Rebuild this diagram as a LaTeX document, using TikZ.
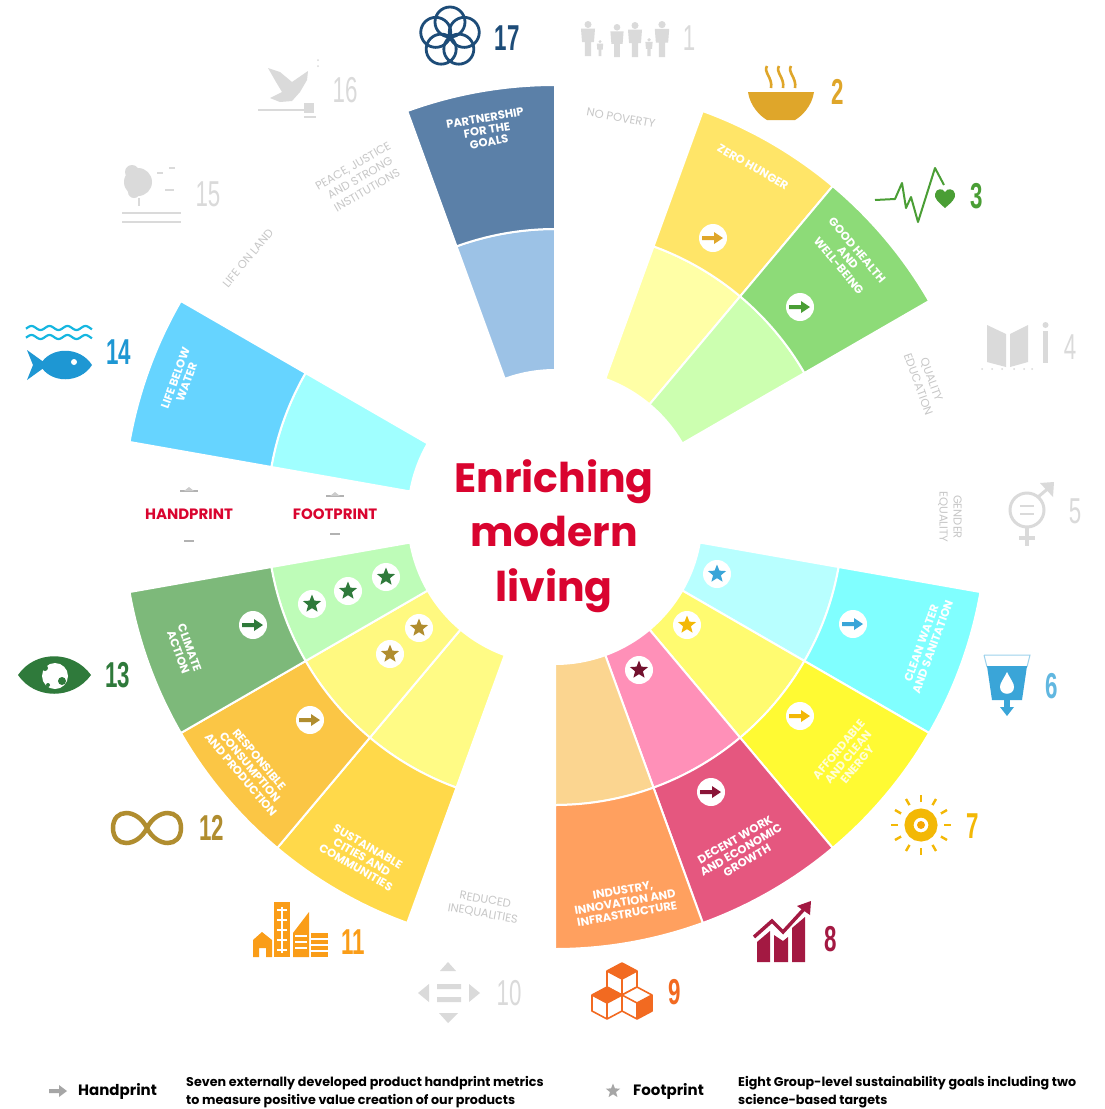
\documentclass[tikz,border=0pt]{standalone}
\usepackage{fontspec}
\setmainfont{Poppins}
\newfontfamily\numfont{Liberation Sans}
\usetikzlibrary{shapes.geometric}
\definecolor{enrich}{HTML}{D9042F}
\definecolor{grayicon}{HTML}{DADADA}
\definecolor{c17}{HTML}{5B80A8}\definecolor{d17}{HTML}{9CC2E6}
\definecolor{c2}{HTML}{FFE568}\definecolor{d2}{HTML}{FFFFA6}
\definecolor{c3}{HTML}{8DDB78}\definecolor{d3}{HTML}{CCFFB0}
\definecolor{c6}{HTML}{80FFFF}\definecolor{d6}{HTML}{B8FFFF}
\definecolor{c7}{HTML}{FFFA33}\definecolor{d7}{HTML}{FFFB70}
\definecolor{c8}{HTML}{E5577F}\definecolor{d8}{HTML}{FF90B8}
\definecolor{c9}{HTML}{FFA05F}\definecolor{d9}{HTML}{FBD590}
\definecolor{c11}{HTML}{FFD94A}\definecolor{d11}{HTML}{FFFB85}
\definecolor{c12}{HTML}{FBC645}\definecolor{d12}{HTML}{FFF980}
\definecolor{c13}{HTML}{7DB97A}\definecolor{d13}{HTML}{BEFCB8}
\definecolor{c14}{HTML}{66D4FF}\definecolor{d14}{HTML}{A0FFFF}
\definecolor{i2}{HTML}{DFA62A}\definecolor{i3}{HTML}{4A9E35}
\definecolor{i6}{HTML}{3AA5D8}\definecolor{i7}{HTML}{F3B806}
\definecolor{i8}{HTML}{A31942}\definecolor{i9}{HTML}{F26A21}
\definecolor{i11}{HTML}{FA9D18}\definecolor{i12}{HTML}{B08D2F}
\definecolor{i13}{HTML}{2F7A3B}\definecolor{i14}{HTML}{1E97D3}
\definecolor{i17}{HTML}{1D4C78}
\tikzset{
  x=1pt,y=-1pt,
  seclabel/.style={text=white,font=\fontsize{11.5}{12}\selectfont\bfseries,align=center,inner sep=0pt},
  graylabel/.style={text=black!22,font=\fontsize{11.5}{14}\selectfont,align=center,inner sep=0pt},
  numb/.style={font=\numfont\fontsize{36}{36}\selectfont\bfseries,xscale=.62,inner sep=0pt},
  gnumb/.style={font=\numfont\fontsize{36}{36}\selectfont,xscale=.62,inner sep=0pt,text=grayicon},
  badge/.style={circle,fill=white,minimum size=28pt,inner sep=0pt},
  starmark/.style={star,star points=5,star point ratio=2.3,minimum size=19pt,inner sep=0pt,fill=#1},
  legend/.style={font=\fontsize{12.7}{18}\selectfont\bfseries,align=left,inner sep=0pt,anchor=west,text=black},
  heading/.style={text=enrich,font=\fontsize{15}{15}\selectfont\bfseries,inner sep=0pt},
}
\newcommand\wedgeseg[5]{%
  \fill[#5,draw=white,line width=2pt] (#1:#3) arc[start angle=#1,end angle=#2,radius=#3 pt]
    -- (#2:#4) arc[start angle=#2,end angle=#1,radius=#4 pt] -- cycle;}
\newcommand\goal[3]{% from, inner colour, outer colour
  \pgfmathsetmacro\tb{#1+20}%
  \wedgeseg{#1}{\tb}{147}{288}{#2}%
  \wedgeseg{#1}{\tb}{288}{432}{#3}}
\newcommand\arrowmark[3]{%
  \node[badge] (a#1) at (#2) {};
  \fill[#3] ([shift={(-11,-2)}]a#1.center) -- ++(12,0) -- ++(0,-4) -- ++(9,6) -- ++(-9,6) -- ++(0,-4) -- ++(-12,0) -- cycle;}
\newcommand\starbadge[3]{%
  \node[badge] (s#1) at (#2) {};
  \node[starmark=#3] (st#1) at (s#1.center) {};}
\newcommand\psn[3]{% x, top y, height
  \fill[grayicon] (#1,#2+.1*#3) circle[radius=.1*#3 pt];
  \fill[grayicon] (#1-.2*#3,#2+.22*#3) -- (#1+.2*#3,#2+.22*#3) -- (#1+.17*#3,#2+.6*#3) -- (#1+.09*#3,#2+.6*#3)
     -- (#1+.09*#3,#2+#3) -- (#1-.09*#3,#2+#3) -- (#1-.09*#3,#2+.6*#3) -- (#1-.17*#3,#2+.6*#3) -- cycle;}
\newcommand\cubeicon[4]{% x,y top centre, top fill, left fill
  \fill[#3] (#1,#2-8) -- (#1+15,#2) -- (#1,#2+8) -- (#1-15,#2) -- cycle;
  \fill[#4] (#1,#2+8) -- (#1+15,#2) -- (#1+15,#2+16) -- (#1,#2+24) -- cycle;
  \draw[i9,line width=1.6pt,line join=round] (#1,#2-8) -- (#1+15,#2) -- (#1,#2+8) -- (#1-15,#2) -- cycle
     (#1-15,#2) -- (#1-15,#2+16) -- (#1,#2+24) -- (#1+15,#2+16) -- (#1+15,#2) (#1,#2+8) -- (#1,#2+24);}
\begin{document}
\begin{tikzpicture}
\useasboundingbox (0,0) rectangle (1104,1109);
\fill[white] (0,0) rectangle (1104,1109);
% ---------- wheel
\begin{scope}[shift={(555,517)},x=1pt,y=1pt]
\goal{90}{d17}{c17}
\goal{50}{d2}{c2}
\goal{30}{d3}{c3}
\goal{-30}{d6}{c6}
\goal{-50}{d7}{c7}
\goal{-70}{d8}{c8}
\goal{-90}{d9}{c9}
\goal{-130}{d11}{c11}
\goal{-150}{d12}{c12}
\goal{-170}{d13}{c13}
\goal{150}{d14}{c14}
\end{scope}
% ---------- sector labels
\node[seclabel,rotate=10] (l17) at (487,130) {PARTNERSHIP\\FOR THE\\GOALS};
\node[seclabel,rotate=-30] (l2) at (753,167) {ZERO HUNGER};
\node[seclabel,rotate=-50] (l3) at (848,258) {GOOD HEALTH\\AND\\WELL-BEING};
\node[seclabel,rotate=70] (l6) at (927,645) {CLEAN WATER\\AND SANITATION};
\node[seclabel,rotate=50,text=white!80!c7] (l7) at (848,757) {AFFORDABLE\\AND CLEAN\\ENERGY};
\node[seclabel,rotate=30] (l8) at (741,850) {DECENT WORK\\AND ECONOMIC\\GROWTH};
\node[seclabel,rotate=10] (l9) at (625,902) {INDUSTRY,\\INNOVATION AND\\INFRASTRUCTURE};
\node[seclabel,rotate=-30] (l11) at (362,857) {SUSTAINABLE\\CITIES AND\\COMMUNITIES};
\node[seclabel,rotate=-50] (l12) at (250,767) {RESPONSIBLE\\CONSUMPTION\\AND PRODUCTION};
\node[seclabel,rotate=-70] (l13) at (184,650) {CLIMATE\\ACTION};
\node[seclabel,rotate=70] (l14) at (181,380) {LIFE BELOW\\WATER};
% ---------- grey labels
\node[graylabel,rotate=-10] (l1) at (621,118) {NO POVERTY};
\node[graylabel,rotate=-70] (l4) at (925,382) {QUALITY\\EDUCATION};
\node[graylabel,rotate=-90] (l5) at (950,517) {GENDER\\EQUALITY};
\node[graylabel,rotate=-10] (l10) at (484,907) {REDUCED\\INEQUALITIES};
\node[graylabel,rotate=50] (l15) at (248,258) {LIFE ON LAND};
\node[graylabel,rotate=30] (l16) at (360,178) {PEACE, JUSTICE\\AND STRONG\\INSTITUTIONS};
% ---------- badges
\arrowmark{2}{713,238}{i2}
\arrowmark{3}{800,307}{i3}
\arrowmark{6}{853,624}{i6}
\arrowmark{7}{800,716}{i7}
\arrowmark{8}{711,792}{i8!85!black}
\arrowmark{12}{310,720}{i12}
\arrowmark{13}{253,625}{i13}
\starbadge{6}{717,574}{i6}
\starbadge{7}{687,625}{i7}
\starbadge{8}{639,670}{i8!70!black}
\starbadge{12a}{419,628}{i12}
\starbadge{12b}{390,654}{i12}
\starbadge{13a}{386,577}{i13}
\starbadge{13b}{348,591}{i13}
\starbadge{13c}{312,604}{i13}
% ---------- centre
\node[text=enrich,font=\fontsize{41}{54.5}\selectfont\bfseries,align=center,inner sep=0pt] (title) at (554,536) {Enriching\\modern\\living};
\node[heading] (hand) at (189,514) {HANDPRINT};
\node[heading] (foot) at (335,514) {FOOTPRINT};
\foreach \xx/\ya/\yb in {189/491/541,335/496/534}{
  \draw[black!30,line width=1.5pt] (\xx-9,\ya) -- (\xx+9,\ya) (\xx-5,\yb) -- (\xx+5,\yb);
  \fill[black!20] (\xx-5,\ya) -- (\xx,\ya-4) -- (\xx+5,\ya) -- cycle;
}
% ---------- numbers
\node[numb,text=i17] (n17) at (507,38) {17};
\node[gnumb] (n1) at (689,38) {1};
\node[numb,text=i2] (n2) at (838,92) {2};
\node[numb,text=i3] (n3) at (977,196) {3};
\node[gnumb] (n4) at (1070,347) {4};
\node[gnumb] (n5) at (1075,511) {5};
\node[numb,text=i6!80!white] (n6) at (1052,686) {6};
\node[numb,text=i7] (n7) at (973,826) {7};
\node[numb,text=i8] (n8) at (831,939) {8};
\node[numb,text=i9] (n9) at (675,992) {9};
\node[gnumb] (n10) at (509,993) {10};
\node[numb,text=i11] (n11) at (353,942) {11};
\node[numb,text=i12] (n12) at (212,828) {12};
\node[numb,text=i13] (n13) at (118,675) {13};
\node[numb,text=i14] (n14) at (119,352) {14};
\node[gnumb] (n15) at (208,194) {15};
\node[gnumb] (n16) at (345,90) {16};
% icon 17
\foreach \a in {90,162,234,306,18}
  \draw[i17,line width=2.8pt] ({450+15*cos(\a)},{37-15*sin(\a)}) circle[radius=15pt];
% icon 1
\psn{588}{21}{35}\psn{600}{40}{16}\psn{617}{24}{33}\psn{635}{22}{35}\psn{649}{38}{18}\psn{662}{21}{36}
% icon 2
\fill[i2] (748,92) -- (814,92) .. controls (812,106) and (802,116) .. (795,120) -- (767,120) .. controls (760,116) and (750,106) .. (748,92) -- cycle;
\foreach \xx in {768,780,792}
  \draw[i2,line width=2.6pt] (\xx-1,66) .. controls (\xx-5,72) and (\xx+5,78) .. (\xx+3,88);
% icon 3
\draw[i3,line width=2pt,line join=round] (875,200) -- (895,199) -- (902,183) -- (906,208) -- (911,197) -- (918,222) -- (935,168) -- (944,185);
\fill[i3] (945,208) .. controls (938,202) and (934,198) .. (935,194) .. controls (936,188) and (943,188) .. (945,192) .. controls (947,188) and (954,188) .. (955,194) .. controls (956,198) and (952,202) .. (945,208) -- cycle;
% icon 4
\fill[grayicon] (987,325) -- (1006,334) -- (1006,367) -- (987,362) -- cycle;
\fill[grayicon] (1028,325) -- (1010,334) -- (1010,367) -- (1028,362) -- cycle;
\fill[grayicon] (1043,331) rectangle (1048,363);
\fill[grayicon] (1045.5,325) circle[radius=3pt];
\foreach \xx in {982,992,1002,1014,1024,1032} \fill[grayicon] (\xx,369) circle[radius=1pt];
% icon 5
\draw[grayicon,line width=3pt] (1027,510) circle[radius=17pt];
\draw[grayicon,line width=2.5pt] (1020,506) -- (1034,506) (1020,514) -- (1034,514);
\draw[grayicon,line width=3pt] (1038,497) -- (1051,486);
\fill[grayicon] (1040,483) -- (1054,482) -- (1053,497) -- cycle;
\draw[grayicon,line width=4pt] (1027,527) -- (1027,546) (1019,538) -- (1035,538);
% icon 6
\draw[i6!50!white,line width=1pt] (984,655) -- (1030,655) -- (1027,667) (984,655) -- (987,667);
\fill[i6] (987,666) -- (1027,666) -- (1022,700) -- (992,700) -- cycle;
\fill[white] (1007,672) .. controls (1011,680) and (1014,683) .. (1014,687) .. controls (1014,696) and (1000,696) .. (1000,687) .. controls (1000,683) and (1003,680) .. (1007,672) -- cycle;
\fill[i6] (1004,699) rectangle (1010,709);
\fill[i6] (1000,707) -- (1014,707) -- (1007,716) -- cycle;
% icon 7
\draw[i7,line width=9pt] (921,825) circle[radius=12pt];
\fill[i7!70!orange] (921,825) circle[radius=4pt];
\foreach \a in {0,30,...,330}
  \draw[i7,line width=2.4pt] ({921+23*cos(\a)},{825-23*sin(\a)}) -- ({921+30*cos(\a)},{825-30*sin(\a)});
% icon 8
\fill[i8] (757,942) -- (770,931) -- (770,962) -- (757,962) -- cycle;
\fill[i8] (774,935) -- (783,941) -- (788,937) -- (788,962) -- (774,962) -- cycle;
\fill[i8] (792,928) -- (805,917) -- (805,962) -- (792,962) -- cycle;
\draw[i8,line width=3.5pt] (754,937) -- (772,921) -- (783,932) -- (805,908);
\fill[i8] (797,906) -- (811,901) -- (810,915) -- cycle;
% icon 9
\cubeicon{622}{971}{i9}{white}
\cubeicon{637}{995}{white}{i9}
\cubeicon{607}{995}{i9}{white}
% icon 10
\fill[grayicon] (448,962) -- (456,971) -- (440,971) -- cycle;
\fill[grayicon] (439,1013) -- (458,1013) -- (448,1023) -- cycle;
\fill[grayicon] (418,993) -- (429,984) -- (429,1002) -- cycle;
\fill[grayicon] (480,993) -- (469,984) -- (469,1002) -- cycle;
\fill[grayicon] (437,984) rectangle (461,989) (437,997) rectangle (461,1002);
% icon 11
\fill[i11] (253,957) -- (253,940) -- (262,932) -- (272,940) -- (272,957) -- (266,957) -- (266,948) -- (259,948) -- (259,957) -- cycle;
\fill[i11] (274,902) rectangle (290,957);
\foreach \yy in {910,920,930,940,950} \draw[white,line width=1.2pt] (277,\yy) -- (287,\yy);
\draw[white,line width=1.2pt] (282,907) -- (282,953);
\fill[i11] (293,933) -- (309,912) -- (309,957) -- (293,957) -- cycle;
\foreach \yy in {936,942,948} \draw[white,line width=1.2pt] (295,\yy) -- (307,\yy);
\fill[i11] (311,933) rectangle (328,957);
\foreach \yy in {939,945,951} \draw[white,line width=1.2pt] (311,\yy) -- (328,\yy);
% icon 12
\draw[i12,line width=4.5pt] (147,828) .. controls (157,808) and (181,808) .. (181,828) .. controls (181,848) and (157,848) .. (147,828) .. controls (137,808) and (113,808) .. (113,828) .. controls (113,848) and (137,848) .. (147,828) -- cycle;
% icon 13
\fill[i13] (18,675) .. controls (35,650) and (73,650) .. (91,675) .. controls (73,700) and (35,700) .. (18,675) -- cycle;
\fill[white] (55,676) circle[radius=13pt];
\fill[i13] (45,668) circle[radius=3pt] (62,681) circle[radius=4pt] (48,685) circle[radius=2pt];
% icon 14
\foreach \yy in {328,337}
  \draw[i14!70!cyan,line width=2.2pt] plot[domain=26:92,samples=67] (\x,{\yy+2*sin(\x*20)});
\fill[i14] (40,365) .. controls (50,346) and (80,346) .. (92,365) .. controls (80,384) and (50,384) .. (40,365) -- cycle;
\fill[i14] (27,350) -- (45,363) -- (45,367) -- (27,380) -- (33,365) -- cycle;
\fill[white] (74,362) circle[radius=3pt];
% icon 15
\fill[grayicon] (138,182) circle[radius=14pt] (132,172) circle[radius=7pt] (134,192) circle[radius=6pt];
\fill[grayicon] (138,198) rectangle (140,206);
\draw[grayicon,line width=2pt] (122,213) -- (181,213) (122,222) -- (181,222);
\draw[grayicon,line width=1.5pt] (157,173) -- (163,173) (169,168) -- (175,168) (165,190) -- (174,190);
% icon 16
\fill[grayicon] (268,68) -- (280,72) -- (292,82) -- (308,71) -- (307,80) -- (300,92) -- (292,101) -- (280,102) -- (270,98) -- (282,92) -- (276,82) -- cycle;
\draw[grayicon,line width=1.5pt] (258,110) -- (305,110) (304,117) -- (316,117);
\fill[grayicon] (304,103) rectangle (314,113);
\fill[grayicon] (318,60) circle[radius=1pt] (318,66) circle[radius=1pt];
% ---------- legend
\fill[black!35] (49,1089) -- (59,1089) -- (59,1085) -- (67,1091) -- (59,1097) -- (59,1093) -- (49,1093) -- cycle;
\node[legend,font=\fontsize{15}{18}\selectfont\bfseries] (lh) at (78,1091) {Handprint};
\node[legend] (lht) at (186,1092) {Seven externally developed product handprint metrics\\to measure positive value creation of our products};
\node[starmark=black!35,minimum size=15pt] (lsm) at (613,1091) {};
\node[legend,font=\fontsize{15}{18}\selectfont\bfseries] (lf) at (633,1091) {Footprint};
\node[legend] (lft) at (738,1092) {Eight Group-level sustainability goals including two\\science-based targets};
\end{tikzpicture}
\end{document}
